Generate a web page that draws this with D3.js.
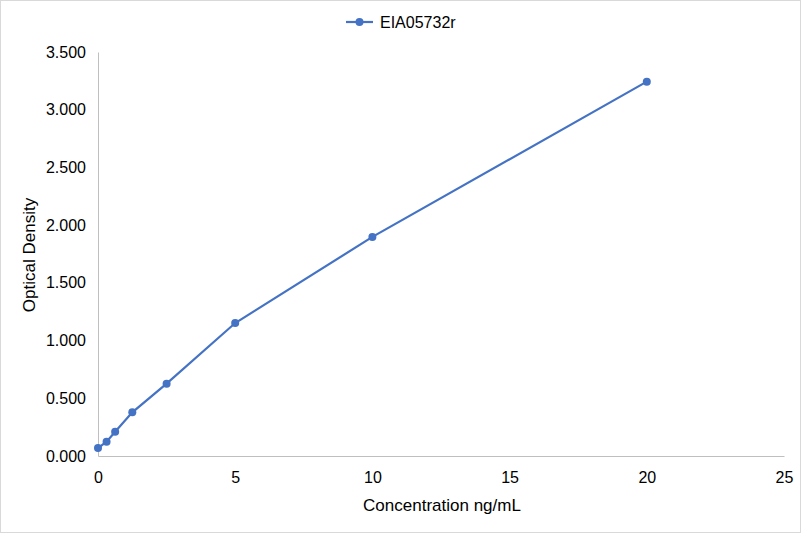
<!DOCTYPE html>
<html>
<head>
<meta charset="utf-8">
<script src="https://cdn.jsdelivr.net/npm/d3@7"></script>
<style>
  body { margin: 0; background: #fff; }
  text { font-family: "Liberation Sans", Arial, sans-serif; fill: #000; }
</style>
</head>
<body>
<div id="chart"></div>
<script>
// standard curve values
let seriesName = "EIA05732r";
let concentration = [0, 0.3125, 0.625, 1.25, 2.5, 5, 10, 20];
let density = [0.069, 0.124, 0.21, 0.378, 0.627, 1.152, 1.898, 3.243];
let xTicks = [0, 5, 10, 15, 20, 25];
let yTicks = [0, 0.5, 1, 1.5, 2, 2.5, 3, 3.5];

let width = 801, height = 533;
let svg = d3.select("#chart").append("svg")
    .attr("width", width)
    .attr("height", height);

// outer frame
svg.append("rect")
    .attr("x", 0.5).attr("y", 0.5)
    .attr("width", width - 1).attr("height", height - 1)
    .attr("fill", "#fff")
    .attr("stroke", "#d9d9d9");

let x = d3.scaleLinear().domain([0, 25]).range([98, 784]);
let y = d3.scaleLinear().domain([0, 3.5]).range([456, 52]);

let xAxis = d3.axisBottom(x).tickValues(xTicks).tickSize(0).tickPadding(16)
    .tickFormat(d3.format("d"));
let yAxis = d3.axisLeft(y).tickValues(yTicks).tickSize(0).tickPadding(12)
    .tickFormat(d3.format(".3f"));

let gx = svg.append("g").attr("transform", `translate(0, ${y(0)})`).call(xAxis);
let gy = svg.append("g").attr("transform", `translate(${x(0)}, 0)`).call(yAxis);

[gx, gy].forEach(g => {
  g.select(".domain").attr("stroke", "#bfbfbf").attr("stroke-width", 1);
  g.selectAll("text").style("font-size", "16px").attr("fill", "#000");
});

// axis titles
svg.append("text")
    .attr("x", 442).attr("y", 511)
    .attr("text-anchor", "middle")
    .style("font-size", "17px")
    .text("Concentration ng/mL");

svg.append("text")
    .attr("transform", "translate(35, 255) rotate(-90)")
    .attr("text-anchor", "middle")
    .style("font-size", "17px")
    .text("Optical Density");

let data = concentration.map((c, i) => ({c: c, od: density[i]}));
let color = "#4472c4";

let line = d3.line().x(d => x(d.c)).y(d => y(d.od));
svg.append("path")
    .datum(data)
    .attr("d", line)
    .attr("fill", "none")
    .attr("stroke", color)
    .attr("stroke-width", 2.2);

svg.append("g").selectAll("circle").data(data)
    .enter()
    .append("circle")
    .attr("cx", d => x(d.c))
    .attr("cy", d => y(d.od))
    .attr("r", 4)
    .attr("fill", color);

// legend
let legend = svg.append("g").attr("transform", "translate(346, 22)");
legend.append("line")
    .attr("x1", 0).attr("x2", 27)
    .attr("y1", 0).attr("y2", 0)
    .attr("stroke", color).attr("stroke-width", 2.2);
legend.append("circle").attr("cx", 13.5).attr("cy", 0).attr("r", 4).attr("fill", color);
legend.append("text")
    .attr("x", 34).attr("y", 6)
    .style("font-size", "16px")
    .text(seriesName);
</script>
</body>
</html>
